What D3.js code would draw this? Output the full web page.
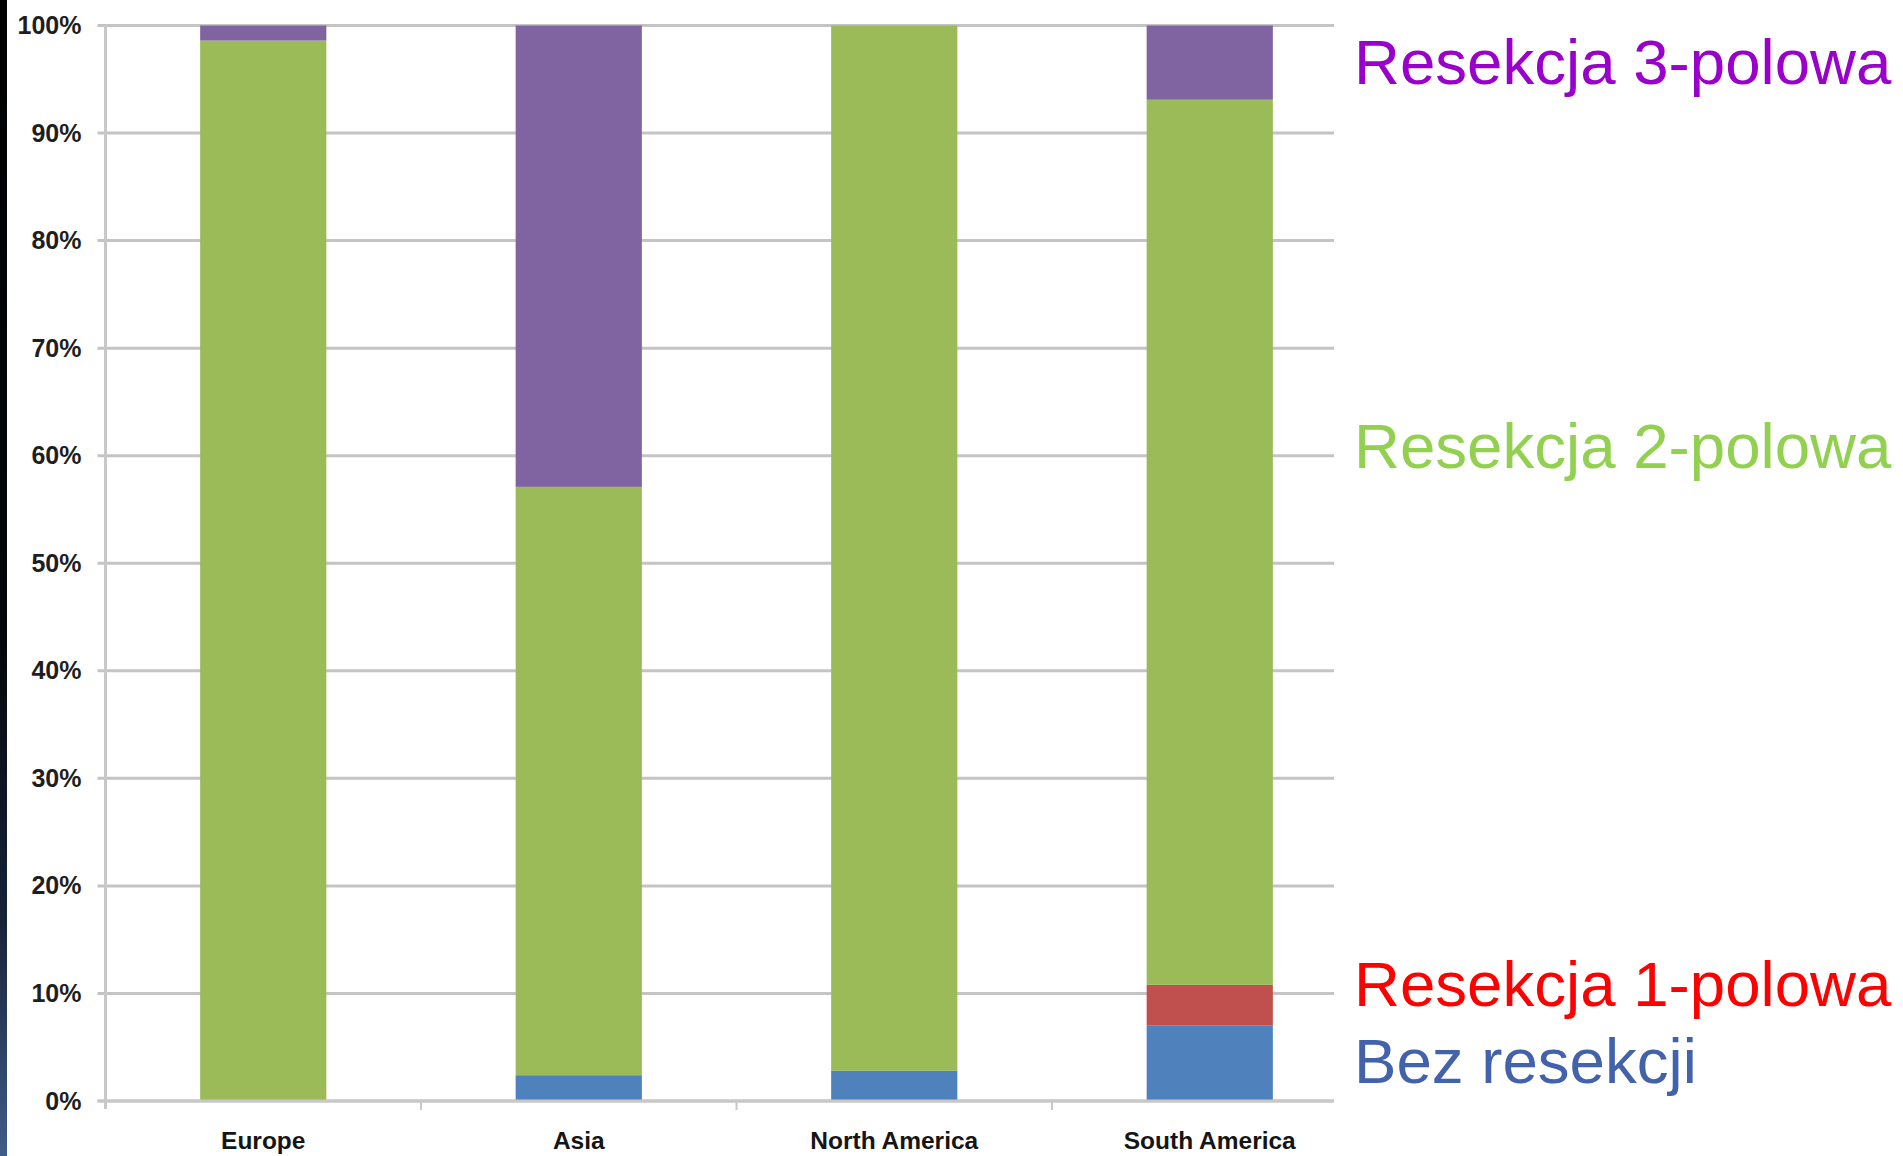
<!DOCTYPE html>
<html>
<head>
<meta charset="utf-8">
<script src="https://cdn.jsdelivr.net/npm/d3@7/dist/d3.min.js"></script>
<style>
  html, body { margin: 0; padding: 0; background: #ffffff; }
  svg { display: block; }
</style>
</head>
<body>
<svg id="chart" width="1903" height="1156"></svg>
<script>
// Regions on the x axis
const categories = ["Europe", "Asia", "North America", "South America"];

// Share of each treatment per region, in percent (stacked bottom to top)
const bezResekcji = [0, 2.4, 2.8, 7.0];
const resekcja1 = [0, 0, 0, 3.8];
const resekcja2 = [98.6, 54.7, 97.2, 82.3];
const resekcja3 = [1.4, 42.9, 0, 6.9];

// Y axis ticks
const yTicks = [0, 10, 20, 30, 40, 50, 60, 70, 80, 90, 100];

// Series order, keys and colours
const seriesKeys = ["bez", "r1", "r2", "r3"];
const seriesColors = ["#4F81BD", "#C0504D", "#9BBB59", "#8064A2"];

// Labels at the right
const legendLabels = ["Resekcja 3-polowa", "Resekcja 2-polowa", "Resekcja 1-polowa", "Bez resekcji"];
const legendColors = ["#9900CC", "#92D050", "#FF0000", "#4262AC"];

const rows = categories.map((c, i) => ({
  category: c,
  bez: bezResekcji[i],
  r1: resekcja1[i],
  r2: resekcja2[i],
  r3: resekcja3[i]
}));

const svg = d3.select("#chart");

// Dark strip along the left edge
const defs = svg.append("defs");
const grad = defs.append("linearGradient")
  .attr("id", "edge").attr("x1", 0).attr("y1", 0).attr("x2", 0).attr("y2", 1);
grad.append("stop").attr("offset", "0").attr("stop-color", "#000000");
grad.append("stop").attr("offset", "0.55").attr("stop-color", "#04060b");
grad.append("stop").attr("offset", "0.8").attr("stop-color", "#17233a");
grad.append("stop").attr("offset", "1").attr("stop-color", "#405c88");
svg.append("rect").attr("x", 0).attr("y", 0).attr("width", 7).attr("height", 1156)
  .attr("fill", "url(#edge)");

const plotLeft = 105.5, bandRight = 1367.5, gridRight = 1334;
const y = d3.scaleLinear().domain([0, 100]).range([1101, 25.5]);
const x = d3.scaleBand().domain(categories).range([plotLeft, bandRight]).padding(0);

// Horizontal gridlines (extend left as tick marks)
svg.append("g").selectAll("line").data(yTicks).join("line")
  .attr("x1", plotLeft - 8).attr("x2", gridRight)
  .attr("y1", d => y(d)).attr("y2", d => y(d))
  .attr("stroke", "#c4c4c4").attr("stroke-width", 3);

// Y axis with percent labels
const yAxis = d3.axisLeft(y).tickValues(yTicks).tickFormat(d => d + "%").tickSize(0).tickPadding(24);
const yg = svg.append("g").attr("transform", `translate(${plotLeft},0)`).call(yAxis);
yg.select(".domain").remove();
yg.selectAll("text")
  .attr("font-family", "Liberation Sans, Arial, sans-serif")
  .attr("font-weight", "bold")
  .attr("font-size", 25)
  .attr("fill", "#1e1e1e");

// Vertical axis line
svg.append("line")
  .attr("x1", plotLeft).attr("x2", plotLeft)
  .attr("y1", y(100)).attr("y2", y(0) + 8)
  .attr("stroke", "#c8c8c8").attr("stroke-width", 3);

// Category separator ticks below the baseline
svg.append("g").selectAll("line").data(categories.slice(1)).join("line")
  .attr("x1", d => x(d)).attr("x2", d => x(d))
  .attr("y1", y(0)).attr("y2", y(0) + 9)
  .attr("stroke", "#c8c8c8").attr("stroke-width", 2);

// Stacked bars
const stacked = d3.stack().keys(seriesKeys)(rows);
const barW = x.bandwidth() * 0.4;
const barOff = (x.bandwidth() - barW) / 2;
svg.append("g").selectAll("g").data(stacked).join("g")
  .attr("fill", (d, i) => seriesColors[i])
  .selectAll("rect").data(d => d.filter(s => s[1] - s[0] > 0)).join("rect")
  .attr("x", d => x(d.data.category) + barOff)
  .attr("width", barW)
  .attr("y", d => y(d[1]))
  .attr("height", d => y(d[0]) - y(d[1]));

// Category labels
const xAxis = d3.axisBottom(x).tickSize(0).tickPadding(31);
const xg = svg.append("g").attr("transform", `translate(0,${y(0)})`).call(xAxis);
xg.select(".domain").remove();
xg.selectAll("text")
  .attr("font-family", "Liberation Sans, Arial, sans-serif")
  .attr("font-weight", "bold")
  .attr("font-size", 24.5)
  .attr("fill", "#151515");

// Baseline on top of the bars' bottom edge
svg.append("line")
  .attr("x1", plotLeft - 8).attr("x2", gridRight)
  .attr("y1", y(0)).attr("y2", y(0))
  .attr("stroke", "#c8c8c8").attr("stroke-width", 3);

// Series names at the right
const legendY = [84, 468, 1006, 1083];
svg.append("g").selectAll("text").data(legendLabels).join("text")
  .attr("x", 1354)
  .attr("y", (d, i) => legendY[i])
  .attr("font-family", "Liberation Sans, Arial, sans-serif")
  .attr("font-size", 63.6)
  .attr("fill", (d, i) => legendColors[i])
  .text(d => d);
</script>
</body>
</html>
